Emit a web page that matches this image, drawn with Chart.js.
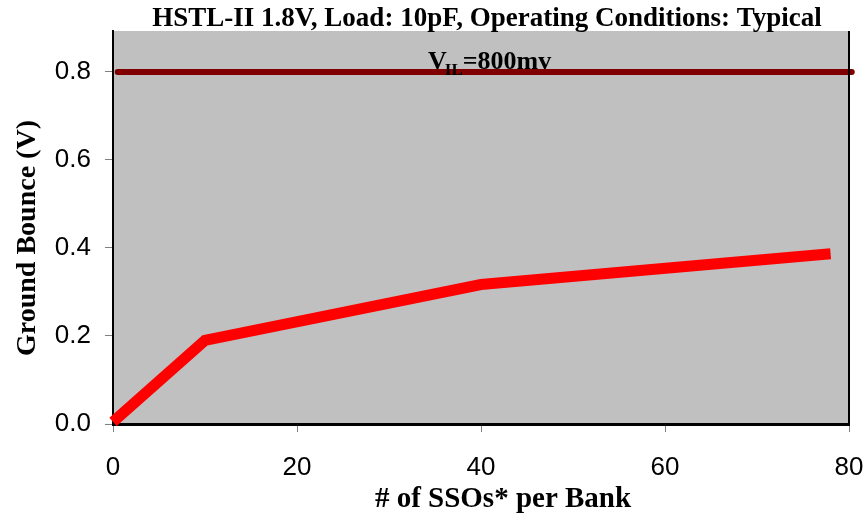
<!DOCTYPE html>
<html><head><meta charset="utf-8">
<script src="https://cdn.jsdelivr.net/npm/chart.js@4/dist/chart.umd.min.js"></script>
<style>html,body{margin:0;padding:0;background:#fff;}#wrap{width:863px;height:516px;}</style>
</head><body><div id="wrap"><canvas id="c"></canvas></div>
<script>
const ssoCounts = [0, 10, 40, 78];
const groundBounce = [0.005, 0.19, 0.317, 0.387];
const vilX = [0.5, 80.3];
const vilY = [0.8, 0.8];
const xTicks = [0, 20, 40, 60, 80];
const yTicks = [0, 0.2, 0.4, 0.6, 0.8];
const titleText = 'HSTL-II 1.8V, Load: 10pF, Operating Conditions: Typical';
const xTitle = '# of SSOs* per Bank';
const yTitle = 'Ground Bounce (V)';

const serif = '"Liberation Serif", "DejaVu Serif", serif';
const sans = '"Liberation Sans", Arial, sans-serif';

const bgPlugin = {
  id: 'bg',
  beforeDraw(chart) {
    const {ctx, chartArea: a} = chart;
    ctx.save();
    ctx.fillStyle = '#c0c0c0';
    ctx.fillRect(a.left, a.top, a.right - a.left, a.bottom - a.top);
    ctx.restore();
  },
  afterDraw(chart) {
    const {ctx, chartArea: a} = chart;
    ctx.save();
    ctx.strokeStyle = '#000';
    ctx.lineWidth = 2;
    ctx.beginPath();
    ctx.moveTo(a.right, a.top); ctx.lineTo(a.right, a.bottom);
    ctx.stroke();
    ctx.fillStyle = '#000';
    ctx.font = 'bold 27px ' + serif;
    ctx.textAlign = 'center';
    ctx.textBaseline = 'alphabetic';
    ctx.fillText(titleText, 487, 26);
    ctx.font = 'bold 29px ' + serif;
    ctx.fillText(xTitle, 503, 507);
    ctx.save();
    ctx.font = 'bold 28px ' + serif;
    ctx.translate(35, 238);
    ctx.rotate(-Math.PI / 2);
    ctx.fillText(yTitle, 0, 0);
    ctx.restore();
    // annotation V_IL=800mv
    const x0 = 428, y0 = 69;
    ctx.textAlign = 'left';
    ctx.font = 'bold 26px ' + serif;
    ctx.fillText('V', x0, y0);
    let w = ctx.measureText('V').width;
    ctx.font = 'bold 17px ' + serif;
    ctx.fillText('IL', x0 + w - 2, y0 + 6);
    let w2 = ctx.measureText('IL').width;
    ctx.font = 'bold 26px ' + serif;
    ctx.fillText('=800mv', x0 + w + w2 - 2, y0);
    ctx.restore();
  }
};

new Chart(document.getElementById('c'), {
  type: 'line',
  data: {
    datasets: [
      {
        data: ssoCounts.map((x, i) => ({x, y: groundBounce[i]})),
        borderColor: '#ff0000', borderWidth: 11, pointRadius: 0,
        borderCapStyle: 'butt', borderJoinStyle: 'miter', tension: 0, clip: false
      },
      {
        data: vilX.map((x, i) => ({x, y: vilY[i]})),
        borderColor: '#800000', borderWidth: 6, pointRadius: 0,
        borderCapStyle: 'round', tension: 0, clip: false
      }
    ]
  },
  options: {
    responsive: true, maintainAspectRatio: false, animation: false,
    devicePixelRatio: 1,
    layout: {padding: {top: 31, right: 14, left: 0, bottom: 0}},
    plugins: {legend: {display: false}, title: {display: false}, tooltip: {enabled: false}},
    scales: {
      x: {
        type: 'linear', min: 0, max: 80,
        afterBuildTicks: s => { s.ticks = xTicks.map(v => ({value: v})); },
        afterFit: s => { s.height = 92; s.paddingRight = 0; s.paddingLeft = 0; },
        grid: {display: true, drawOnChartArea: false, tickLength: 8, color: '#808080'},
        border: {display: true, color: '#000', width: 3},
        ticks: {font: {family: sans, size: 26}, color: '#000', padding: 20, maxRotation: 0}
      },
      y: {
        type: 'linear', min: 0, max: 0.893,
        afterBuildTicks: s => { s.ticks = yTicks.map(v => ({value: v})); },
        afterFit: s => { s.width = 113; s.paddingTop = 0; s.paddingBottom = 0; },
        grid: {display: true, drawOnChartArea: false, tickLength: 8, color: '#808080'},
        border: {display: true, color: '#000', width: 2},
        ticks: {font: {family: sans, size: 26}, color: '#000', padding: 14,
          callback: v => v.toFixed(1)}
      }
    }
  },
  plugins: [bgPlugin]
});
</script></body></html>
